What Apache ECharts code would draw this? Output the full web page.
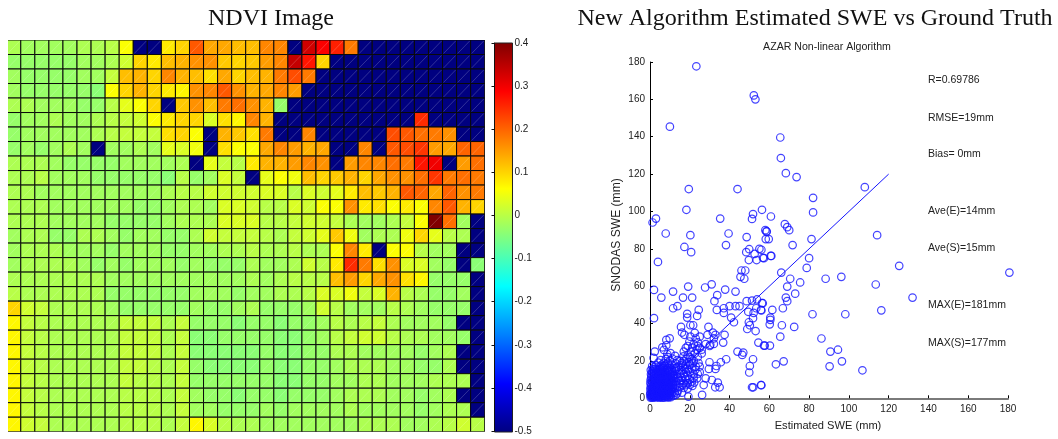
<!DOCTYPE html>
<html><head><meta charset="utf-8">
<style>html,body{margin:0;padding:0;background:#fff}#c{width:1058px;height:439px}</style>
<script src="https://cdn.jsdelivr.net/npm/echarts@6/dist/echarts.min.js"></script>
</head><body><div id="c"></div>
<script>
const N = -50;
// NDVI in hundredths, one array per image row, top to bottom
const r0=[-1,-2,-2,-2,-2,-1,-1,0,6,N,N,8,10,21,14,14,12,12,17,17,N,33,29,26,18,N,N,N,N,N,N,N,N,N];
const r1=[-3,-3,-3,-3,-3,-2,-2,-1,2,10,8,12,13,16,16,11,10,11,15,17,34,27,10,N,N,N,N,N,N,N,N,N,N,N];
const r2=[-2,-3,-3,-3,-3,-2,-2,1,12,13,10,17,13,12,9,14,10,12,13,18,22,18,N,N,N,N,N,N,N,N,N,N,N,N];
const r3=[-2,-3,-3,-3,-3,-3,-4,6,10,13,10,8,7,16,17,21,16,13,14,17,15,N,N,N,N,N,N,N,N,N,N,N,N,N];
const r4=[-1,-1,-2,-2,-2,-3,-3,0,4,6,10,N,11,16,12,18,19,16,13,-3,N,N,N,N,N,N,N,N,N,N,N,N,N,N];
const r5=[-3,-2,-2,-1,-2,-2,-1,0,1,2,6,8,10,10,3,9,7,17,13,N,N,N,N,N,N,N,N,N,N,25,N,N,N,N];
const r6=[-3,-2,-2,-2,-2,-2,-1,0,1,1,1,9,10,6,N,13,11,9,18,N,N,17,N,N,N,N,N,22,21,19,18,16,N,N];
const r7=[-3,-2,-3,-2,-1,-2,N,-2,-2,-1,-2,4,3,5,N,9,6,6,14,17,15,13,14,N,N,17,N,21,22,24,15,14,20,20];
const r8=[-1,-1,-1,-2,-3,-3,-3,-3,-2,-2,-2,-2,-1,N,4,1,0,8,13,13,15,17,16,N,15,17,17,19,18,27,30,N,15,19];
const r9=[-1,-1,0,-2,-2,-2,-3,-3,-3,-3,-3,-4,0,-3,-2,3,1,N,4,6,5,12,10,11,13,10,14,16,16,19,24,18,19,18];
const r10=[-1,-1,-2,-2,-2,-2,-2,-2,-2,-2,-2,-1,0,0,2,2,2,2,3,3,0,3,2,4,8,12,11,13,21,20,14,20,16,18];
const r11=[-1,-1,-1,-2,-2,-2,-2,-2,-2,-3,-3,-2,-1,-1,-2,3,3,2,0,0,3,2,6,6,16,8,9,6,8,6,17,21,13,10];
const r12=[-1,-1,-1,-2,-2,-2,-2,-3,-3,-3,-3,-2,-1,-1,-1,3,3,3,0,0,1,2,2,1,-1,-2,-2,-1,1,6,40,19,-2,N];
const r13=[-2,-1,-1,-3,-3,-1,-1,-2,-3,-2,-2,-3,-3,-1,2,1,1,1,0,-1,1,2,4,11,5,-2,-1,-1,5,10,4,0,-1,N];
const r14=[-2,-1,-1,-1,-2,-2,-2,-3,-2,-2,-2,-3,-3,-2,-2,-1,-1,0,-1,-1,0,-1,-1,6,17,8,N,6,6,0,-2,-2,N,N];
const r15=[-2,-1,-1,-1,-1,-2,-3,-2,-3,-2,-2,-2,-3,-2,-3,-3,-3,-1,-2,-2,-1,2,0,8,25,18,9,16,3,3,-2,-3,N,-4];
const r16=[-1,-1,-1,-1,-1,-1,-1,-2,-2,-2,-2,-2,-2,-2,-2,-2,-2,-1,-2,-1,0,0,0,12,15,10,14,16,9,7,-3,-3,-3,N];
const r17=[0,-1,-1,-1,-1,-1,-1,-3,-3,-3,-3,-3,-3,-2,-2,-2,-3,-2,-2,-1,-1,0,3,3,5,1,3,13,0,-1,-3,-3,-2,N];
const r18=[10,2,1,-1,-1,-1,-1,-2,-3,-3,-3,-3,-3,-2,-3,-3,-2,-1,-3,-3,-3,-2,2,0,-2,-2,-2,0,-1,-2,-3,-3,-3,N];
const r19=[7,1,0,-1,-1,-1,-1,-1,1,1,1,-1,1,-3,-3,-3,-4,-3,-3,-4,-3,-3,-2,0,-1,0,1,-1,-2,-2,-2,-3,N,N];
const r20=[7,1,0,-1,-1,-1,-1,-1,1,1,1,-1,1,-4,-4,-3,-3,-3,-3,-4,-4,-3,-2,0,1,2,2,0,-1,-1,-2,-2,-3,N];
const r21=[7,1,0,-1,-1,-1,-1,-1,1,1,1,-1,1,-4,-4,-4,-4,-4,-3,-4,-4,-3,-3,-1,-1,-2,-2,-2,-2,-3,-2,-1,N,N];
const r22=[7,1,0,-1,-1,-1,-1,-1,1,1,0,-1,1,-3,-4,-4,-4,-4,-3,-4,-4,-3,-3,-2,-1,-1,-1,-2,-2,-3,-3,-1,N,N];
const r23=[7,1,0,-1,-1,-1,-1,-1,1,0,0,-1,1,-3,-3,-3,-3,-3,-3,-4,-4,-3,-3,-2,-2,-1,-1,-2,-2,-2,-1,-1,-1,N];
const r24=[7,1,0,-1,-1,-1,-1,-1,0,0,0,-1,1,-2,-3,-3,-4,-3,-3,-4,-3,-3,-3,-2,-1,-1,-1,-2,-2,-3,-2,-1,N,N];
const r25=[7,1,0,-1,-1,-1,-1,-1,0,0,0,-1,1,-2,-2,-3,-3,-3,-2,-3,-2,-2,-2,-2,-1,-2,-2,-2,-2,-3,-2,-1,-1,N];
const r26=[7,2,1,-1,-1,-1,-1,-1,0,0,0,-1,1,7,3,0,-1,-1,-2,-2,-2,-2,-2,-2,-2,-1,-1,-1,-2,-2,-1,0,2,0];
const ndviRows=[r0,r1,r2,r3,r4,r5,r6,r7,r8,r9,r10,r11,r12,r13,r14,r15,r16,r17,r18,r19,r20,r21,r22,r23,r24,r25,r26];

// Scatter: [estimated SWE, SNODAS SWE]
const outerPoints=[[23.3,177.7],[52.2,162.1],[53,160],[10,145.4],[65.5,139.6],[65.8,128.6],[68.3,120.5],[73.7,118.4],[19.5,112],[44,112],[82,107.3],[18.3,100.9],[56.3,100.9],[82,99.5],[3,96.2],[1.3,94.1],[35.3,96.2],[51.8,98.6],[51.3,96],[60.8,97.3],[67.8,93.2],[69,91.6],[58,90],[108,113],[114.2,87.3],[81.2,85.2],[71.7,82],[58.2,85.2],[59.7,85.2],[58.7,89.3],[70,90],[61,76.2],[56,79.5],[57.3,75],[80,75],[78.8,69.8],[125.3,70.9],[66,67.3],[180.7,67.3],[70.5,64],[88.3,64],[96.2,65],[75.5,62],[69,59.8],[113.5,60.9],[132,53.9],[73,56],[68.3,53.9],[69,52],[116.3,47.1],[66.8,48.2],[61.5,47.3],[56.7,50.9],[56,47],[81.7,45],[98.2,45],[60.5,43.2],[60.5,42],[60.2,39.6],[66.3,39.1],[72.5,38.2],[65.5,33],[86.2,32],[57.7,28.2],[60.3,28.2],[94.5,26],[90.7,25],[67.2,19.8],[63.3,18.2],[96.5,19.8],[90.3,17.1],[106.8,15],[56,7]];
const midPoints=[[7.9,88.2],[20.3,87.3],[39.5,88.2],[48.6,86.3],[58.5,89.3],[17.3,81],[20.7,78.2],[38.2,82],[4,73],[48.4,78.2],[49.9,79.8],[52.6,77.3],[55,80],[49.7,74],[53.6,74],[56.8,75.2],[60.7,76.2],[46,68.4],[47.9,68.4],[45.5,65],[47.4,64],[2,58],[11.6,57.1],[19.2,59.8],[27.7,59.3],[31,61],[5.7,53.9],[16.6,53.9],[21.2,53.9],[33.8,55.2],[32.4,52],[37.8,58.2],[43,57.1],[11.6,48.2],[13.8,49.3],[2,42.9],[24.5,47.3],[18.7,45.2],[18.7,43.2],[23.7,44.1],[33.6,47.3],[37.1,48.2],[37.1,45.7],[40,49.3],[43,49.3],[45,49.3],[40.8,43.2],[42.2,40.7],[48.6,52],[51.3,52.3],[53.8,52.9],[56.3,50.9],[49.4,46.3],[53.4,48.2],[55.8,47.3],[52.1,45.7],[51.8,42.9],[49.7,40.7],[50.2,39.1],[48.9,37.1],[53.1,36],[15.6,38.2],[16.1,35.2],[17.3,34],[20.3,39.1],[21.7,39.1],[20.3,33],[22.5,35],[29.4,38.2],[28.9,34],[31.6,35.2],[32.9,34],[37.5,34],[32.1,32.1],[32.1,29.1],[36.8,29.8],[30.3,28.6],[54.5,29.8],[57.3,28.2],[44,25],[46.9,24.5],[46.4,23.2],[51.8,20.9],[38.3,20.9],[35.6,19.3],[29.9,19.3],[29.6,15.7],[33.4,17.3],[32.9,15.7],[50.2,17.3],[49.9,13.8],[31.1,9.8],[28,10.7],[34.1,8.4],[32.8,5.9],[35,5.9],[23.7,10.7],[27,7.1],[22.2,8.4],[21.3,6.6],[26.2,1.8],[19.3,0.9],[51.3,5.9],[51.9,5.9],[55.8,7.1],[9.9,32.1],[8.2,31.3],[8.2,28.4],[6.2,27.3],[7,25.9],[2.4,25],[1.8,21.6]];
const bandPoints=[[22,29],[24,28],[25,27],[26,26],[24,30],[23,32],[25,33],[28,29],[30,28],[19,28],[18,27],[17,25],[19,23],[20,22],[21,21],[22,20],[24,22],[26,24],[15,20],[16,19],[17,20],[18,18],[20,18],[21,16],[23,17],[25,17],[25,14],[24,13],[22,13],[20,14],[18,14],[19,12],[17,13],[16,15],[14,17],[13,16],[15,13],[14,11],[16,11],[18,10],[20,10],[22,11],[21,9],[19,8],[17,8],[15,8],[13,9],[12,12],[11,14],[10,17],[9,19],[8,21],[9,22],[10,20],[7,19],[6,18],[11,18],[12,9],[13,7],[15,6],[17,5.5],[18,7],[16,3],[14,4],[12.5,5.5],[11.5,7.5],[13.5,13],[18.5,16],[16.5,17],[20.5,25],[22.5,24],[23.5,26],[16.8,22.4],[18.3,21.1],[14.6,15.2],[15.4,17.8],[12.9,18.7],[13.7,20.4],[11.2,21.3],[17.4,15.9],[19.6,19.4],[21.4,18.7],[15.7,9.8],[17.6,11.4],[19.2,14.9],[13.2,10.8],[14.9,9.3],[16.3,7.1],[12.1,16.1],[10.6,12.7],[11.7,10.6],[12.7,14.4],[18.9,5.2],[20.2,7.3],[22.8,15.3],[24.4,18.9],[19.8,30.4],[21.2,27.1],[10.3,24.2],[12.6,22.7],[8.7,23.6],[5.4,20.4],[4.2,19.1],[3.1,17.6],[2.2,16.8],[1.1,17.2]];
const blobPoints=[[0.3,0.4],[0.8,1.2],[1.2,0.3],[1.6,2.1],[2.1,0.8],[2.6,1.6],[3.1,0.5],[3.5,2.4],[4.1,1.1],[4.6,0.3],[5.2,1.9],[5.7,0.7],[6.1,2.6],[6.8,1.3],[7.2,0.4],[7.9,2.1],[8.3,0.9],[8.9,1.7],[9.4,0.5],[9.9,2.9],[0.2,3.1],[0.9,3.8],[1.4,4.6],[1.9,3.3],[2.4,5.2],[2.9,4.1],[3.3,5.9],[3.8,3.7],[4.3,4.9],[4.9,3.2],[5.4,5.6],[5.9,4.3],[6.4,3.5],[7,5.1],[7.5,3.9],[8.1,5.8],[8.6,4.4],[9.2,3.4],[9.7,5.3],[10.3,4.1],[10.8,2.2],[11.3,3.3],[0.4,6.2],[0.7,7.3],[1.1,8.4],[1.7,6.6],[2.2,7.8],[2.7,9.1],[3.2,6.9],[3.7,8.2],[4.2,7.1],[4.8,9.3],[5.3,6.8],[5.8,8.1],[6.3,9.6],[6.9,7.2],[7.4,8.7],[7.8,6.4],[8.4,9.2],[8.8,7.4],[9.3,6.1],[9.8,8.3],[10.4,7],[10.9,9.4],[11.6,6.2],[0.3,9.8],[0.6,11.1],[1.3,10.2],[1.8,12.3],[2.3,10.9],[2.8,13.1],[3.4,11.6],[3.9,10.1],[4.4,12.6],[5,11],[5.5,13.4],[6,10.6],[6.6,12.1],[7.1,10.3],[7.6,13.8],[8.2,11.3],[8.7,14.4],[9.1,12.2],[9.6,10.4],[10.1,13],[10.7,11.2],[11.2,15],[2,14.6],[3,15.2],[4,14.2],[5,15.6],[6,14.8],[7,16.2],[1,14.2],[0.5,12.9],[0.2,5],[0.1,2],[1,5.6],[4.7,6],[6.5,5.5],[2.5,2.9],[3.6,1.3],[5.6,3],[7.7,1],[8.9,3],[10.5,0.6],[11.8,1.4],[12.3,3],[12.9,1.8],[13.6,2.6],[9.1,16.3],[8.3,18],[7.4,17.5],[6.3,15.9],[5.2,17.2],
[0.5,0.9],[1,1.7],[1.4,1.1],[1.9,0.5],[2.3,2.1],[2.8,0.9],[3.3,1.7],[3.8,0.7],[4.4,2],[4.9,0.9],[5.5,1.2],[6,0.4],[6.5,1.8],[7.1,2.6],[7.6,1.5],[8.2,2.7],[8.7,0.6],[9.2,2.2],[9.7,1.2],[10.2,1.9],[0.6,2.6],[1.2,3],[1.8,4.2],[2.2,3.6],[2.7,2.7],[3.1,4.5],[3.6,3.1],[4,3.9],[4.6,4.2],[5.1,2.7],[5.6,4.8],[6.2,5.1],[6.7,4.2],[7.3,3.2],[7.8,4.8],[8.3,3.6],[8.9,5.6],[9.5,4.6],[10,3.3],[10.6,5.5],[11,4.5],[11.5,5.2],[0.8,5.2],[1.5,5.9],[2,6.3],[2.5,6.7],[3,7.8],[3.5,6.4],[4.1,5.8],[4.5,7.9],[5.1,8.2],[5.7,7],[6.2,6.3],[6.7,8.3],[7.2,6],[7.7,7.7],[8.2,7],[8.7,8.4],[9.3,7.5],[9.9,6.4],[10.5,8.4],[11.1,7.7],[0.2,8.1],[0.8,9.2],[1.5,9.4],[2.1,9],[2.6,10.2],[3.1,8.9],[3.6,9.7],[4.2,9.2],[4.6,10.7],[5.2,9.8],[5.8,9.1],[6.4,11.2],[6.9,9.3],[7.4,11.3],[7.9,9.7],[8.5,10.4],[9,11.1],[9.5,9.1],[10.2,10.1],[10.8,10.5],[11.4,11.8],[11.9,12.8],[0.9,12.4],[1.4,13.5],[2.4,12.5],[3.2,13.6],[3.7,12.7],[4.7,13.9],[5.3,12.4],[5.8,14.3],[6.4,13.3],[7,12.8],[7.4,15],[8,13.2],[8.4,15.5],[9,13.9],[9.5,14.9],[10,15.7],[10.4,14.5],[0.4,15.1],[1.5,15.6],[2.5,15.8],[3.5,14.9],[4.5,15.2],[5.5,16.1],[6.5,17.1]];
const oneToOneLine=[[0,0],[120,120]];

const statLabels=['R=0.69786','RMSE=19mm','Bias= 0mm','Ave(E)=14mm','Ave(S)=15mm','MAX(E)=181mm','MAX(S)=177mm'];
const statY=[80,118,154,211,248,305,343];
const jet=['#000080','#0000ff','#0080ff','#00ffff','#80ff80','#ffff00','#ff8000','#ff0000','#800000'];

const cells=[];
ndviRows.forEach((row,y)=>row.forEach((v,x)=>cells.push([x,y,v/100])));
const sans='"Liberation Sans",Arial,sans-serif', serif='"Liberation Serif","Times New Roman",serif';

const chart=echarts.init(document.getElementById('c'),null,{renderer:'canvas'});
const txt=(t,x,y,o={})=>({type:'text',x,y,silent:true,z:20,style:Object.assign({text:t,font:'10.5px '+sans,fill:'#222',textVerticalAlign:'middle'},o)});
chart.setOption({
 animation:false,backgroundColor:'#fff',
 grid:[
  {left:8,top:40,width:476.7,height:391.7,show:false},
  {left:494.5,top:43,width:18,height:388,show:false},
  {left:650,top:62,width:358,height:336.3,show:false}
 ],
 xAxis:[
  {gridIndex:0,type:'value',min:0.09,max:34,show:false},
  {gridIndex:1,type:'value',min:0,max:1,show:false},
  {gridIndex:2,type:'value',min:0,max:180,interval:20,splitLine:{show:false},
   axisLine:{onZero:false,lineStyle:{color:'#7a7a7a',width:2}},axisTick:{inside:true,length:3,lineStyle:{color:'#000'}},
   axisLabel:{fontFamily:sans,fontSize:10,color:'#222',margin:6}}
 ],
 yAxis:[
  {gridIndex:0,type:'value',min:0,max:27,inverse:true,show:false},
  {gridIndex:1,type:'value',min:-0.5,max:0.4,interval:0.1,position:'right',z:100,splitLine:{show:false},
   axisLine:{show:true,lineStyle:{color:'#111'}},axisTick:{inside:true,length:3,lineStyle:{color:'#111'}},
   axisLabel:{fontFamily:sans,fontSize:10,color:'#222',margin:2}},
  {gridIndex:2,type:'value',min:0,max:180,interval:20,splitLine:{show:false},
   axisLine:{onZero:false,lineStyle:{color:'#000'}},axisTick:{inside:true,length:3,lineStyle:{color:'#000'}},
   axisLabel:{fontFamily:sans,fontSize:10,color:'#222',margin:5}}
 ],
 visualMap:{type:'continuous',show:false,seriesIndex:0,dimension:2,min:-0.5,max:0.4,inRange:{color:jet}},
 series:[
  {type:'custom',xAxisIndex:0,yAxisIndex:0,data:cells,clip:true,encode:{x:0,y:1},
   renderItem(p,api){
    const a=api.coord([api.value(0),api.value(1)]),b=api.coord([api.value(0)+1,api.value(1)+1]);
    const x=a[0],y=a[1],w=b[0]-a[0],h=b[1]-a[1];
    return {type:'group',children:[
     {type:'rect',shape:{x,y,width:w,height:h},style:{fill:api.visual('color'),stroke:'#0a0a0a',lineWidth:1}},
     {type:'line',shape:{x1:x+1,y1:y+h-1,x2:x+w-1,y2:y+1},style:{stroke:'rgba(255,255,255,0.32)',lineWidth:0.6}}
    ]};
   }},
  {type:'line',xAxisIndex:2,yAxisIndex:2,data:oneToOneLine,showSymbol:false,lineStyle:{color:'#1414ff',width:1},z:3},
  {type:'scatter',xAxisIndex:2,yAxisIndex:2,clip:false,z:4,symbol:'circle',symbolSize:7.5,
   data:[...outerPoints,...midPoints,...bandPoints,...blobPoints],
   itemStyle:{color:'rgba(0,0,0,0)',borderColor:'#1414ff',borderWidth:1.2}}
 ],
 graphic:[
  {type:'rect',z:-1,silent:true,shape:{x:494.5,y:43,width:18,height:389},
   style:{stroke:'#222',lineWidth:1,fill:new echarts.graphic.LinearGradient(0,1,0,0,jet.map((c,i)=>({offset:i/(jet.length-1),color:c})))}},
  txt('NDVI Image',271,19,{font:'24px '+serif,fill:'#111',textAlign:'center'}),
  txt('New Algorithm Estimated SWE vs Ground Truth',815,19,{font:'24px '+serif,fill:'#111',textAlign:'center'}),
  txt('AZAR Non-linear Algorithm',827,47,{font:'10.6px '+sans,textAlign:'center'}),
  txt('Estimated SWE (mm)',828,426,{font:'11.1px '+sans,textAlign:'center'}),
  {type:'text',x:617,y:235,rotation:Math.PI/2,silent:true,z:20,style:{text:'SNODAS SWE (mm)',font:'12.1px '+sans,fill:'#222',textAlign:'center',textVerticalAlign:'middle'}},
  ...statLabels.map((t,i)=>txt(t,928,statY[i]))
 ]
});
</script></body></html>
